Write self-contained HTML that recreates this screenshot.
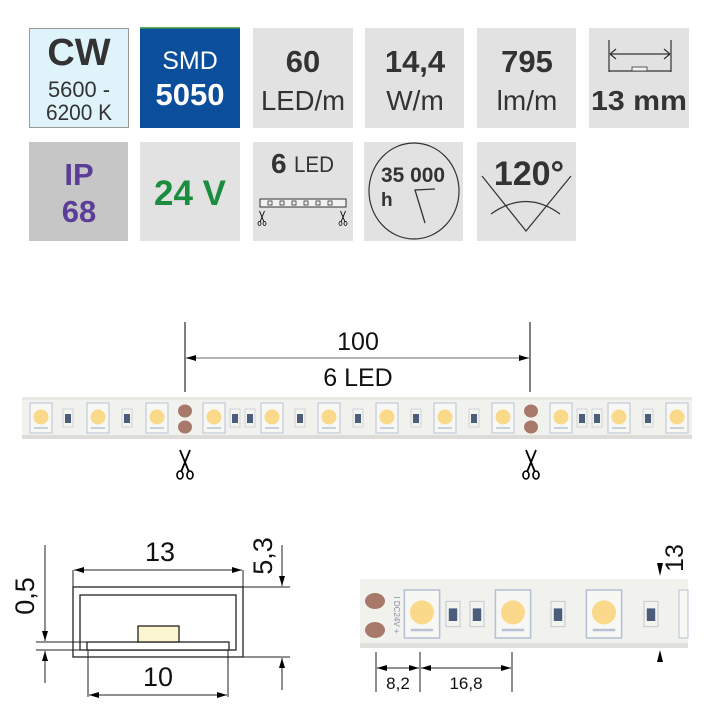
<!DOCTYPE html>
<html><head><meta charset="utf-8"><style>
html,body{margin:0;padding:0;background:#fff;width:714px;height:708px;overflow:hidden}
svg{display:block}
text{font-family:"Liberation Sans Narrow","Liberation Sans",sans-serif}
.b{font-weight:bold}
</style></head><body>
<svg width="714" height="708" viewBox="0 0 714 708" xmlns="http://www.w3.org/2000/svg">
<defs>
<marker id="ar" viewBox="0 0 10 6" refX="10" refY="3" markerWidth="14" markerHeight="6" markerUnits="userSpaceOnUse" orient="auto-start-reverse"><path d="M0,0 L10,3 L0,6 Z" fill="#000"/></marker>
<g id="led">
<rect x="-11" y="-15" width="22" height="30" fill="#f7f7f4" stroke="#b8c2d4" stroke-width="1"/>
<circle cx="0" cy="-1" r="7.5" fill="#fbd98a"/>
<path d="M-7,10 h14" stroke="#b8c2d4" stroke-width="1.5"/>
</g>
<g id="res">
<rect x="-5" y="-9" width="10" height="18" fill="#f3f3f0" stroke="#c8ccd4" stroke-width="0.8"/>
<rect x="-3" y="-4" width="6" height="9" fill="#4b5d7a"/>
</g>
<g id="sc">
<path d="M-5,-14 L4,8 M5,-14 L-4,8" stroke="#000" stroke-width="1.8" fill="none"/>
<ellipse cx="-5" cy="11" rx="3" ry="4" fill="none" stroke="#000" stroke-width="1.6"/>
<ellipse cx="5" cy="11" rx="3" ry="4" fill="none" stroke="#000" stroke-width="1.6"/>
</g>
</defs>

<rect x="29.5" y="28.5" width="99" height="99" fill="#dff3fb" stroke="#9a9a9a"/>
<text x="79" y="65" font-size="38" class="b" fill="#333" text-anchor="middle">CW</text>
<text x="79" y="97" font-size="22" fill="#333" text-anchor="middle" textLength="62" lengthAdjust="spacingAndGlyphs">5600 -</text>
<text x="79" y="120" font-size="22" fill="#333" text-anchor="middle" textLength="66" lengthAdjust="spacingAndGlyphs">6200 K</text>

<rect x="140" y="28" width="100" height="100" fill="#0b4e9b"/>
<rect x="140" y="27" width="100" height="1.5" fill="#5ab04a"/>
<text x="190" y="69" font-size="25" fill="#fff" text-anchor="middle">SMD</text>
<text x="190" y="105" font-size="31" class="b" fill="#fff" text-anchor="middle">5050</text>

<rect x="253" y="28" width="100" height="100" fill="#e2e2e2"/>
<text x="303" y="72" font-size="31" class="b" fill="#333" text-anchor="middle">60</text>
<text x="303" y="110" font-size="28" fill="#333" text-anchor="middle" textLength="84" lengthAdjust="spacingAndGlyphs">LED/m</text>

<rect x="365" y="28" width="99" height="100" fill="#e2e2e2"/>
<text x="415" y="72" font-size="31" class="b" fill="#333" text-anchor="middle">14,4</text>
<text x="415" y="110" font-size="28" fill="#333" text-anchor="middle">W/m</text>

<rect x="477" y="28" width="99" height="100" fill="#e2e2e2"/>
<text x="527" y="72" font-size="31" class="b" fill="#333" text-anchor="middle">795</text>
<text x="527" y="110" font-size="28" fill="#333" text-anchor="middle">lm/m</text>

<rect x="589" y="28" width="100" height="100" fill="#e2e2e2"/>
<path d="M609,40 V72 M671,40 V72 M609,71 H671" stroke="#333" stroke-width="1.2" fill="none"/>
<path d="M610,54 H670 M610,54 l6,-5 M610,54 l6,5 M670,54 l-6,-5 M670,54 l-6,5" stroke="#333" stroke-width="1.2" fill="none"/>
<rect x="632" y="67" width="15" height="4" fill="#f2f2f2" stroke="#333" stroke-width="0.8"/>
<text x="639" y="110" font-size="28" class="b" fill="#333" text-anchor="middle" textLength="96" lengthAdjust="spacingAndGlyphs">13 mm</text>

<rect x="29" y="142" width="99" height="99" fill="#c6c6c6"/>
<text x="79" y="185" font-size="31" class="b" fill="#5b3d98" text-anchor="middle">IP</text>
<text x="79" y="222" font-size="31" class="b" fill="#5b3d98" text-anchor="middle">68</text>

<rect x="140" y="142" width="100" height="99" fill="#e2e2e2"/>
<text x="190" y="205" font-size="35" class="b" fill="#1c8c3e" text-anchor="middle">24 V</text>

<rect x="253" y="142" width="100" height="99" fill="#e2e2e2"/>
<text x="271" y="173" font-size="28" class="b" fill="#333">6</text>
<text x="294" y="172" font-size="22" fill="#333" textLength="40" lengthAdjust="spacingAndGlyphs">LED</text>
<rect x="260" y="199" width="86" height="8" fill="#f2f2f2" stroke="#333" stroke-width="1"/>
<g fill="none" stroke="#333" stroke-width="0.8">
<rect x="268" y="201" width="4" height="4"/><rect x="280" y="201" width="4" height="4"/><rect x="292" y="201" width="4" height="4"/><rect x="304" y="201" width="4" height="4"/><rect x="316" y="201" width="4" height="4"/><rect x="328" y="201" width="4" height="4"/>
</g>
<g transform="translate(262,218) scale(0.5)"><use href="#sc"/></g>
<g transform="translate(343,218) scale(0.5)"><use href="#sc"/></g>

<rect x="364" y="142" width="99" height="99" fill="#e2e2e2"/>
<ellipse cx="414" cy="191" rx="45" ry="48" fill="none" stroke="#333" stroke-width="1.2"/>
<text x="413" y="182" font-size="21" class="b" fill="#333" text-anchor="middle" textLength="64" lengthAdjust="spacingAndGlyphs">35 000</text>
<text x="381" y="206" font-size="19" class="b" fill="#333">h</text>
<path d="M435,189 L415,190 L425,223" stroke="#333" stroke-width="1.3" fill="none"/>

<rect x="477" y="142" width="99" height="99" fill="#e2e2e2"/>
<text x="529" y="185" font-size="34" class="b" fill="#333" text-anchor="middle">120°</text>
<path d="M482,176 L526,231 L571,176" stroke="#333" stroke-width="1.2" fill="none"/>
<path d="M491,214 Q526,189 560,214" stroke="#333" stroke-width="1.2" fill="none"/>

<path d="M185,322 V392 M530,322 V392" stroke="#000" stroke-width="1"/>
<line x1="186" y1="358" x2="529" y2="358" stroke="#888" stroke-width="1.3" marker-start="url(#ar)" marker-end="url(#ar)"/>
<text x="358" y="350" font-size="25" fill="#111" text-anchor="middle">100</text>
<text x="358" y="386" font-size="25" fill="#111" text-anchor="middle">6 LED</text>

<rect x="22" y="397" width="670" height="42" fill="#f1f1ee"/>
<rect x="22" y="397" width="670" height="3" fill="#e8e8e4"/>
<rect x="22" y="435" width="670" height="4" fill="#dedcd8"/>
<g transform="translate(0,418)">
<use href="#led" x="41"/><use href="#res" x="68"/>
<use href="#led" x="98"/><use href="#res" x="127"/>
<use href="#led" x="157"/>
<ellipse cx="185" cy="-7" rx="7" ry="6.5" fill="#a8786a"/><ellipse cx="185" cy="9" rx="7" ry="6.5" fill="#a8786a"/>
<use href="#led" x="214"/><use href="#res" x="235"/><use href="#res" x="250"/>
<use href="#led" x="272"/><use href="#res" x="300"/>
<use href="#led" x="329"/><use href="#res" x="358"/>
<use href="#led" x="387"/><use href="#res" x="416"/>
<use href="#led" x="445"/><use href="#res" x="474"/>
<use href="#led" x="503"/>
<ellipse cx="531" cy="-7" rx="7" ry="6.5" fill="#a8786a"/><ellipse cx="531" cy="9" rx="7" ry="6.5" fill="#a8786a"/>
<use href="#led" x="561"/><use href="#res" x="582"/><use href="#res" x="597"/>
<use href="#led" x="619"/><use href="#res" x="648"/>
<use href="#led" x="677"/>
</g>
<use href="#sc" x="185" y="464"/>
<use href="#sc" x="531" y="464"/>

<rect x="73" y="587" width="170" height="70" fill="none" stroke="#222" stroke-width="1.3"/>
<rect x="80" y="595" width="156" height="55" fill="none" stroke="#222" stroke-width="1.3"/>
<rect x="87" y="642" width="142" height="8" fill="#fff" stroke="#222" stroke-width="1.3"/>
<rect x="138" y="626" width="41" height="16" fill="#fbf5d0" stroke="#222" stroke-width="1.3"/>
<path d="M73,570 V587 M243,570 V587" stroke="#222" stroke-width="1"/>
<line x1="74" y1="570" x2="242" y2="570" stroke="#222" stroke-width="1" marker-start="url(#ar)" marker-end="url(#ar)"/>
<text x="160" y="561" font-size="27" fill="#111" text-anchor="middle">13</text>
<path d="M88,650 V697 M228,650 V697" stroke="#222" stroke-width="1"/>
<line x1="89" y1="695" x2="227" y2="695" stroke="#222" stroke-width="1" marker-start="url(#ar)" marker-end="url(#ar)"/>
<text x="158" y="686" font-size="27" fill="#111" text-anchor="middle">10</text>
<path d="M36,642 H87 M36,650 H87" stroke="#222" stroke-width="1"/>
<line x1="45" y1="545" x2="45" y2="641" stroke="#222" stroke-width="1" marker-end="url(#ar)"/>
<line x1="45" y1="683" x2="45" y2="651" stroke="#222" stroke-width="1" marker-end="url(#ar)"/>
<text transform="translate(34,596) rotate(-90)" font-size="27" fill="#111" text-anchor="middle">0,5</text>
<path d="M243,587 H290 M243,657 H290" stroke="#222" stroke-width="1"/>
<line x1="282" y1="545" x2="282" y2="586" stroke="#222" stroke-width="1" marker-end="url(#ar)"/>
<line x1="282" y1="690" x2="282" y2="658" stroke="#222" stroke-width="1" marker-end="url(#ar)"/>
<text transform="translate(272,556) rotate(-90)" font-size="27" fill="#111" text-anchor="middle">5,3</text>

<rect x="360" y="579" width="328" height="69" fill="#f1f1ee"/>
<rect x="360" y="643" width="328" height="5" fill="#e2e0dc"/>
<ellipse cx="375" cy="601" rx="10" ry="8" fill="#a8786a"/>
<ellipse cx="375" cy="630" rx="10" ry="8" fill="#a8786a"/>
<text transform="translate(394,615) rotate(90)" font-size="8" fill="#8a8fa0" text-anchor="middle">I DC24V +</text>
<g transform="translate(422,614) scale(1.6)"><use href="#led"/></g>
<g transform="translate(453,614) scale(1.4)"><use href="#res"/></g>
<g transform="translate(477,614) scale(1.4)"><use href="#res"/></g>
<g transform="translate(513,614) scale(1.6)"><use href="#led"/></g>
<g transform="translate(558,614) scale(1.4)"><use href="#res"/></g>
<g transform="translate(604,614) scale(1.6)"><use href="#led"/></g>
<g transform="translate(651,614) scale(1.4)"><use href="#res"/></g>
<rect x="679" y="590" width="9" height="48" fill="#f7f7f4" stroke="#b8c2d4"/>
<path d="M376,652 V692 M420,652 V692 M512,652 V692" stroke="#222" stroke-width="1"/>
<line x1="377" y1="668" x2="419" y2="668" stroke="#222" stroke-width="1" marker-start="url(#ar)" marker-end="url(#ar)"/>
<line x1="421" y1="668" x2="511" y2="668" stroke="#222" stroke-width="1" marker-start="url(#ar)" marker-end="url(#ar)"/>
<text x="398" y="689" font-size="17" fill="#111" text-anchor="middle">8,2</text>
<text x="466" y="689" font-size="17" fill="#111" text-anchor="middle">16,8</text>
<path d="M657,563 L663,563 L660,576 Z" fill="#000"/>
<path d="M657,662 L663,662 L660,650 Z" fill="#000"/>
<text transform="translate(683,558) rotate(-90)" font-size="25" fill="#111" text-anchor="middle">13</text>
</svg>
</body></html>
